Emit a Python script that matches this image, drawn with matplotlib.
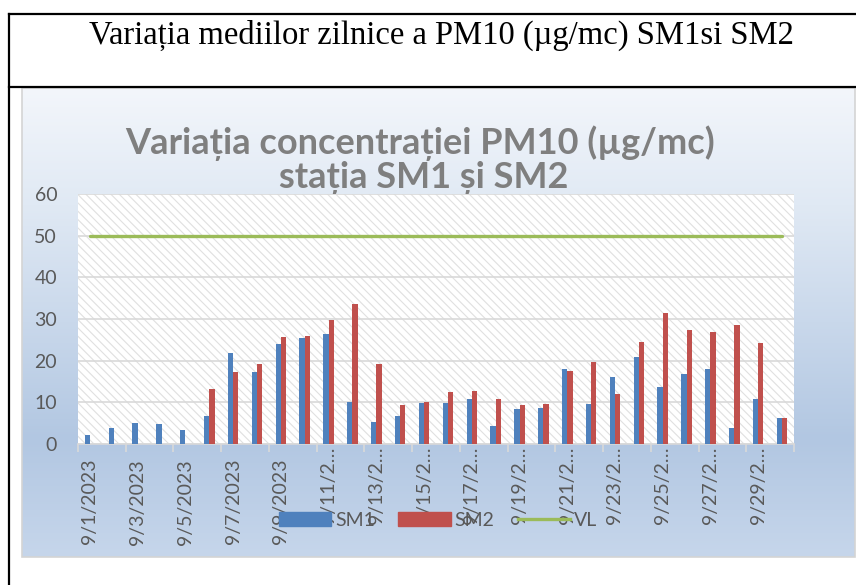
import numpy as np
import matplotlib
matplotlib.use('Agg')
import matplotlib.pyplot as plt
from matplotlib.patches import Rectangle, Patch
from matplotlib.lines import Line2D
import matplotlib.transforms as mtransforms

# date
days = ['9/1/2023', '9/2/2023', '9/3/2023', '9/4/2023', '9/5/2023', '9/6/2023',
        '9/7/2023', '9/8/2023', '9/9/2023', '9/10/2023', '9/11/2023', '9/12/2023',
        '9/13/2023', '9/14/2023', '9/15/2023', '9/16/2023', '9/17/2023', '9/18/2023',
        '9/19/2023', '9/20/2023', '9/21/2023', '9/22/2023', '9/23/2023', '9/24/2023',
        '9/25/2023', '9/26/2023', '9/27/2023', '9/28/2023', '9/29/2023', '9/30/2023']

# valori PM10 (ug/mc)
sm1 = [2.2, 3.8, 5.1, 4.9, 3.4, 6.8, 21.8, 17.2, 23.9, 25.5, 26.3, 10.0, 5.3, 6.7, 9.8,
       9.9, 10.9, 4.4, 8.3, 8.7, 17.9, 9.5, 16.0, 20.9, 13.6, 16.8, 18.0, 3.8, 10.7, 6.3]
sm2 = [0, 0, 0, 0, 0, 13.3, 17.4, 19.3, 25.7, 26.0, 29.7, 33.5, 19.3, 9.3, 10.2,
       12.4, 12.8, 10.9, 9.3, 9.5, 17.5, 19.7, 11.9, 24.4, 31.4, 27.3, 26.9, 28.5, 24.3, 6.3]
vl = [50] * len(days)

# etichete axa x (Excel le trunchiaza)
tick_labels = ['9/1/2023', '9/3/2023', '9/5/2023', '9/7/2023', '9/9/2023', '9/11/2…',
               '9/13/2…', '9/15/2…', '9/17/2…', '9/19/2…', '9/21/2…', '9/23/2…',
               '9/25/2…', '9/27/2…', '9/29/2…']

W, H = 856, 585
fig = plt.figure(figsize=(W / 100, H / 100), dpi=100)

# fundal: tabel + chenar grafic cu gradient
bg = fig.add_axes([0, 0, 1, 1])
bg.set_xlim(0, W)
bg.set_ylim(H, 0)
bg.axis('off')

stops = [(0.0, (243, 246, 251)), (0.25, (224, 233, 244)), (0.75, (178, 199, 226)), (1.0, (198, 214, 235))]
n = 300
t = np.linspace(0, 1, n)
grad = np.zeros((n, 1, 3))
for c in range(3):
    grad[:, 0, c] = np.interp(t, [s[0] for s in stops], [s[1][c] / 255 for s in stops])
bg.imshow(grad, extent=[22, 855, 557, 88], aspect='auto', zorder=1)
bg.add_patch(Rectangle((22, 88), 833, 469, fill=False, edgecolor='#d4d4d4', lw=1.2, zorder=2))

bg.plot([9, W], [14, 14], color='black', lw=1.6, zorder=3)
bg.plot([9, W], [87, 87], color='black', lw=1.6, zorder=3)
bg.plot([9, 9], [14, H], color='black', lw=1.6, zorder=3)

bg.text(441, 35, 'Variația mediilor zilnice a PM10 (µg/mc) SM1si SM2', family='Liberation Serif',
        fontsize=23.5, color='black', ha='center', va='center', zorder=3)
bg.text(420, 143, 'Variația concentrației PM10 (µg/mc)', family='Lato', fontweight='bold',
        fontsize=26, color='#7f7f7f', ha='center', va='center', zorder=3)
bg.text(424, 178, 'stația SM1 și SM2', family='Lato', fontweight='bold',
        fontsize=26, color='#7f7f7f', ha='center', va='center', zorder=3)

# zona grafic
left, right, top, bottom = 78, 794, 194, 444
ax = fig.add_axes([left / W, (H - bottom) / H, (right - left) / W, (bottom - top) / H])
ax.set_facecolor('none')
plt.rcParams['hatch.linewidth'] = 0.8
ax.add_patch(Rectangle((0, 0), 1, 1, transform=ax.transAxes, facecolor='white',
                       hatch='\\\\\\\\', edgecolor='#e0e0e0', lw=0, zorder=0))

x = np.arange(len(days))
bw = 0.22
ax.bar(x - bw / 2, sm1, width=bw, color='#4f81bd', zorder=3)
ax.bar(x + bw / 2, sm2, width=bw, color='#c0504d', zorder=3)
ax.plot(x, vl, color='#9bbb59', lw=2.4, solid_capstyle='round', zorder=4)

ax.set_xlim(-0.5, len(days) - 0.5)
ax.set_ylim(0, 60)
ax.set_yticks(range(0, 61, 10))
ax.yaxis.grid(True, color='#d9d9d9', lw=1.2, zorder=1)
ax.set_axisbelow(True)
for s in ['left', 'right', 'top']:
    ax.spines[s].set_visible(False)
ax.spines['bottom'].set_color('#d9d9d9')
ax.spines['bottom'].set_linewidth(1.2)
ax.tick_params(axis='y', length=0, pad=15, labelsize=14, labelcolor='#595959')
for lbl in ax.get_yticklabels():
    lbl.set_family('Lato')

# tick-uri la granite, etichete la mijlocul zilei
ax.set_xticks(np.arange(-0.5, len(days), 2))
ax.set_xticklabels([])
ax.tick_params(axis='x', length=6, width=1.2, color='#d9d9d9', direction='out')
trans = mtransforms.blended_transform_factory(ax.transData, ax.transAxes)
for i, lab in enumerate(tick_labels):
    off = -0.06 if lab.endswith('2023') else -0.012
    ax.text(2 * i, off, lab, transform=trans, rotation=90, ha='center', va='top',
            family='Lato', fontsize=14, color='#595959', zorder=2)

handles = [Patch(color='#4f81bd'), Patch(color='#c0504d'), Line2D([0], [0], color='#9bbb59', lw=2.4)]
leg = fig.legend(handles, ['SM1', 'SM2', 'VL'], loc='center', bbox_to_anchor=(438 / W, 1 - 520 / H),
                 ncol=3, frameon=False, handlelength=2.7, handleheight=0.75, handletextpad=0.2,
                 columnspacing=1.2, prop={'family': 'Lato', 'size': 14})
for txt in leg.get_texts():
    txt.set_color('#595959')

fig.savefig('out.png', dpi=100)
